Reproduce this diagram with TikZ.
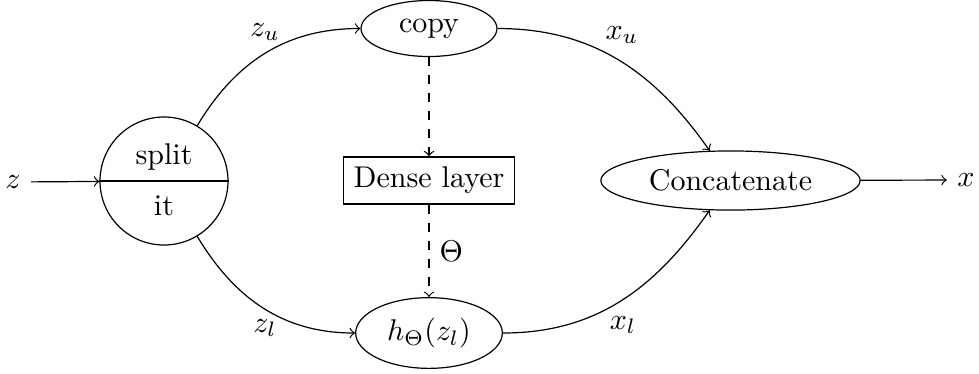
\documentclass[tikz,border=0pt]{standalone}
\usetikzlibrary{shapes.geometric}
\begin{document}
\begin{tikzpicture}[x=0.3333pt,y=-0.3333pt,>=to,
  ell/.style={ellipse,draw},
  lbl/.style={inner sep=0pt}]
\useasboundingbox (0,0) rectangle (979,373);
\node (z) at (13,182) {$z$};
\node[circle,draw,minimum size=42.67pt,inner sep=0pt] (split) at (164,181) {};
\draw (split.west) -- (split.east);
\node (splittxt) at (164,157) {split};
\node (ittxt) at (164,206) {it};
\node[ell,minimum width=45.3pt] (copy) at (429,28.5) {copy};
\node[draw,rectangle] (dense) at (429,180.5) {Dense layer};
\node[ell,minimum width=45.3pt] (h) at (429,333) {$h_\Theta(z_l)$};
\node[ell] (cat) at (730.5,180.5) {Concatenate};
\node (x) at (966,180) {$x$};
\draw[->] (z) -- (split);
\draw[->] (split) to[out=59,in=180] (copy);
\draw[->] (split) to[out=-59,in=180] (h);
\draw[->] (copy) to[out=0,in=125] (cat);
\draw[->] (h) to[out=0,in=-125] (cat);
\draw[->] (cat) -- (x);
\draw[->,dashed] (copy) -- (dense);
\draw[->,dashed] (dense) -- node[right] (theta) {$\Theta$} (h);
\node[lbl] (zu) at (265,32) {$z_u$};
\node[lbl] (zl) at (265,328) {$z_l$};
\node[lbl] (xu) at (622,35) {$x_u$};
\node[lbl] (xl) at (623,325) {$x_l$};
\end{tikzpicture}
\end{document}
